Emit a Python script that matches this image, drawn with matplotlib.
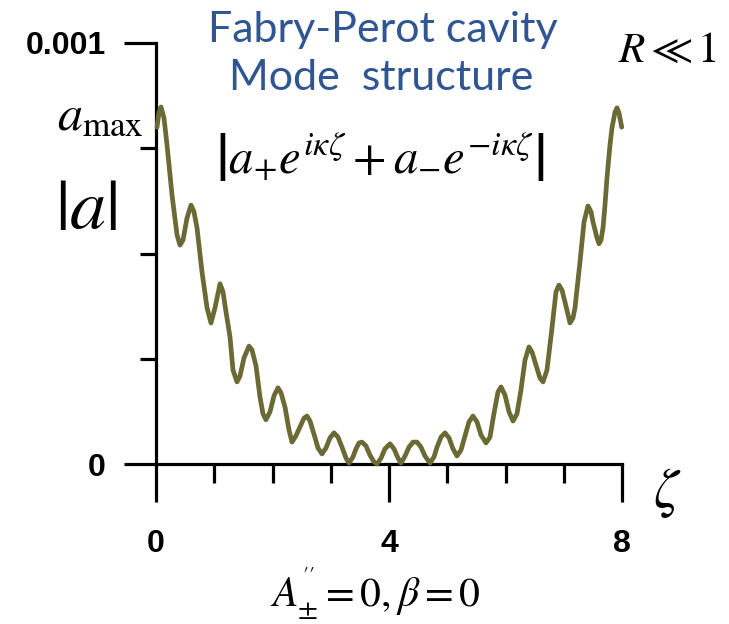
import numpy as np
import matplotlib
matplotlib.use("Agg")
import matplotlib.pyplot as plt
from matplotlib.ticker import FixedLocator, FixedFormatter

plt.rcParams['mathtext.fontset'] = 'stix'

# position along the cavity (zeta) and mode amplitude |a| in units of 1e-3
zeta = [0.017, 0.052, 0.086, 0.137, 0.189, 0.275, 0.361, 0.412, 0.464, 0.532,
        0.601, 0.652, 0.704, 0.790, 0.876, 0.944, 1.013, 1.099, 1.150, 1.202,
        1.270, 1.322, 1.391, 1.442, 1.511, 1.597, 1.648, 1.717, 1.785, 1.837,
        1.888, 1.957, 2.026, 2.094, 2.146, 2.215, 2.283, 2.335, 2.403, 2.472,
        2.541, 2.592, 2.644, 2.712, 2.781, 2.850, 2.918, 2.987, 3.056, 3.124,
        3.193, 3.262, 3.313, 3.382, 3.433, 3.485, 3.536, 3.605, 3.674, 3.742,
        3.794, 3.863, 3.931, 4.017, 4.086, 4.155, 4.206, 4.275, 4.343, 4.412,
        4.481, 4.549, 4.618, 4.704, 4.773, 4.824, 4.893, 4.961, 5.030, 5.099,
        5.167, 5.236, 5.305, 5.373, 5.442, 5.511, 5.579, 5.665, 5.734, 5.803,
        5.871, 5.923, 5.991, 6.060, 6.129, 6.197, 6.266, 6.335, 6.403, 6.455,
        6.524, 6.592, 6.644, 6.712, 6.798, 6.867, 6.918, 6.970, 7.021, 7.107,
        7.159, 7.193, 7.245, 7.279, 7.348, 7.416, 7.468, 7.502, 7.571, 7.605,
        7.640, 7.674, 7.708, 7.742, 7.794, 7.828, 7.880, 7.914, 7.948, 7.995]
amp = [0.800, 0.836, 0.848, 0.822, 0.758, 0.639, 0.544, 0.520, 0.532, 0.584,
       0.615, 0.599, 0.561, 0.456, 0.371, 0.335, 0.371, 0.428, 0.409, 0.361,
       0.302, 0.223, 0.195, 0.209, 0.252, 0.280, 0.271, 0.233, 0.159, 0.119,
       0.105, 0.124, 0.162, 0.181, 0.169, 0.135, 0.081, 0.052, 0.067, 0.088,
       0.109, 0.114, 0.102, 0.071, 0.038, 0.024, 0.038, 0.062, 0.074, 0.064,
       0.040, 0.014, 0.002, 0.017, 0.036, 0.050, 0.052, 0.043, 0.021, 0.005,
       0.000, 0.014, 0.036, 0.048, 0.036, 0.014, 0.002, 0.019, 0.040, 0.052,
       0.052, 0.040, 0.019, 0.002, 0.017, 0.040, 0.064, 0.074, 0.062, 0.036,
       0.019, 0.033, 0.067, 0.100, 0.114, 0.100, 0.069, 0.050, 0.064, 0.121,
       0.171, 0.183, 0.164, 0.124, 0.102, 0.119, 0.176, 0.247, 0.278, 0.266,
       0.235, 0.204, 0.195, 0.223, 0.323, 0.409, 0.425, 0.413, 0.385, 0.335,
       0.347, 0.371, 0.437, 0.480, 0.575, 0.613, 0.599, 0.575, 0.537, 0.523,
       0.532, 0.561, 0.615, 0.679, 0.758, 0.798, 0.836, 0.846, 0.834, 0.800]

x_major = [0, 4, 8]
x_minor = [1, 2, 3, 5, 6, 7]
y_major = [0, 0.001]
y_major_labels = ['0', '0.001']
y_minor = [0.00025, 0.0005, 0.00075]

fig = plt.figure(figsize=(7.29, 6.24), dpi=100)
ax = fig.add_axes([156 / 729, 1 - 464 / 624, 466 / 729, 421 / 624])

ax.plot(zeta, np.array(amp) * 1e-3, color='#6b6934', lw=3.4,
        solid_capstyle='round', clip_on=False, zorder=5)

ax.set_xlim(0, 8)
ax.set_ylim(0, 0.001)
for s in ['top', 'right']:
    ax.spines[s].set_visible(False)
for s in ['left', 'bottom']:
    ax.spines[s].set_linewidth(2.3)

ax.xaxis.set_major_locator(FixedLocator(x_major))
ax.xaxis.set_minor_locator(FixedLocator(x_minor))
ax.yaxis.set_major_locator(FixedLocator(y_major))
ax.yaxis.set_major_formatter(FixedFormatter(y_major_labels))
ax.yaxis.set_minor_locator(FixedLocator(y_minor))

ax.tick_params(axis='x', which='major', length=27, width=2.3, pad=20,
               labelsize=23)
ax.tick_params(axis='x', which='minor', length=14, width=2.3)
ax.tick_params(axis='y', which='major', length=23, width=2.3, pad=13,
               labelsize=23)
ax.tick_params(axis='y', which='minor', length=11.5, width=2.3)
for lab in ax.get_xticklabels() + ax.get_yticklabels():
    lab.set_fontfamily('Liberation Sans')
    lab.set_fontweight('bold')

def px(x, y):
    return x / 729, 1 - y / 624

fig.text(*px(383, 30), 'Fabry-Perot cavity', ha='center', va='center',
         fontsize=31, color='#2f5593', family='Lato')
fig.text(*px(381, 78), 'Mode  structure', ha='center', va='center',
         fontsize=31, color='#2f5593', family='Lato')
fig.text(*px(667, 50), r'$R\ll1$', ha='center', va='center', fontsize=31)
fig.text(*px(100, 115), r'$a_{\mathrm{max}}$', ha='center', va='center',
         fontsize=36)
fig.text(*px(86, 210), r'$|a|$', ha='center', va='center', fontsize=52)
fig.text(*px(380, 157),
         r'$\left|a_{+}e^{i\kappa\zeta}+a_{-}e^{-i\kappa\zeta}\right|$',
         ha='center', va='center', fontsize=35)
fig.text(*px(667, 493), r'$\zeta$', ha='center', va='center', fontsize=40)
fig.text(*px(375, 594), r"$A_{\pm}^{''}=0,\beta=0$", ha='center',
         va='center', fontsize=30)

fig.savefig('out.png', dpi=100)
